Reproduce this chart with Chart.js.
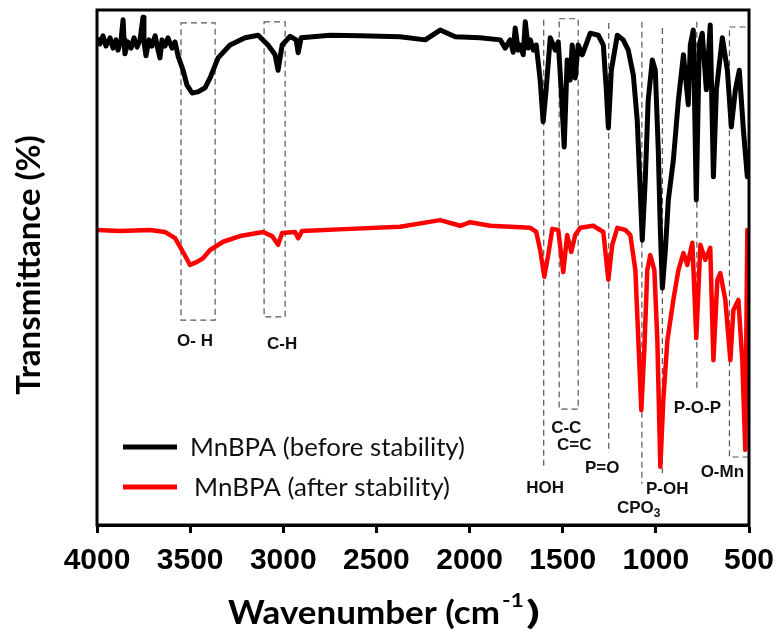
<!DOCTYPE html>
<html><head><meta charset="utf-8">
<script src="https://cdn.jsdelivr.net/npm/chart.js@4/dist/chart.umd.min.js"></script>
<style>html,body{margin:0;padding:0;background:#fff}#wrap{width:780px;height:637px;position:relative}</style>
</head><body><div id="wrap"><canvas id="c"></canvas></div>
<script>
// ---- data (wavenumber cm-1, transmittance a.u.) ----
const wnBefore = [4000,3984,3968,3952,3930,3914,3898,3887,3871,3860,3855,3850,3834,3817,3801,3785,3769,3753,3748,3737,3721,3705,3688,3672,3662,3651,3635,3619,3597,3581,3565,3538,3517,3490,3458,3420,3393,3350,3286,3205,3135,3082,3044,3028,3006,2963,2931,2920,2904,2749,2587,2373,2238,2158,2077,1943,1835,1809,1782,1766,1755,1739,1728,1712,1701,1685,1674,1658,1642,1621,1605,1589,1567,1540,1524,1508,1492,1476,1460,1449,1433,1417,1395,1352,1309,1282,1266,1255,1239,1207,1175,1148,1121,1100,1084,1073,1057,1041,1019,1003,987,976,965,949,933,906,879,852,826,815,799,783,767,751,729,708,691,675,643,616,595,573,552,530,509,504];
const tBefore = [94.6,93.4,95.0,93.0,94.6,92.6,94.2,92.2,94.2,98.1,94.2,91.5,93.8,92.6,94.6,92.8,94.2,98.6,93.8,91.1,94.2,93.0,95.0,92.2,90.7,94.2,93.0,94.6,92.6,93.8,91.1,88.3,85.4,83.9,84.1,84.9,86.8,90.7,93.2,94.6,95.1,93.2,91.3,88.3,93.2,94.9,94.2,91.7,94.6,95.1,95.0,94.8,94.2,96.1,94.8,94.6,94.2,92.6,94.2,91.8,96.5,92.2,93.2,91.3,97.7,92.6,94.2,92.2,93.2,86.4,78.3,84.5,94.6,92.2,93.8,84.5,73.4,90.3,86.4,93.2,86.8,93.2,91.3,95.5,95.1,93.2,84.5,77.1,88.3,95.1,94.2,92.2,87.4,78.6,65.0,55.3,66.9,82.5,90.3,88.3,72.8,57.3,46.0,53.4,63.1,70.9,82.5,91.3,81.6,93.2,96.1,63.1,93.2,95.5,84.5,97.1,67.6,84.5,94.6,88.3,77.3,84.5,88.3,76.7,67.6,72.8];
const wnAfter = [4000,3876,3715,3635,3581,3538,3501,3463,3431,3393,3323,3232,3108,3060,3028,3006,2937,2920,2899,2641,2373,2158,2050,1997,1889,1674,1642,1621,1599,1578,1556,1524,1497,1476,1454,1433,1406,1336,1282,1255,1234,1207,1164,1137,1110,1094,1078,1062,1046,1030,1008,992,976,960,938,906,879,852,831,804,783,761,735,708,691,670,654,627,600,584,557,536,520,509,504];
const tAfter = [57.3,57.1,57.3,56.9,55.7,53.0,50.5,51.1,51.8,53.4,55.0,56.1,56.9,56.1,54.4,56.7,56.9,55.7,57.1,57.5,57.9,59.2,58.1,58.8,58.1,57.7,56.9,53.4,48.2,52.4,57.5,57.3,49.1,56.3,53.0,56.3,57.7,58.1,56.9,47.6,54.4,57.7,57.3,56.3,49.5,35.9,22.3,34.0,49.5,52.4,49.5,35.9,11.3,24.3,35.9,43.7,49.5,52.8,50.5,54.8,36.3,54.4,51.5,53.8,32.0,47.6,48.9,43.7,32.0,41.7,43.7,32.0,14.6,57.3,57.3];
const seriesLabels = ["MnBPA (before stability)", "MnBPA (after stability)"];
const xTicks = [4000,3500,3000,2500,2000,1500,1000,500];

// band annotations (data units)
const bandBoxes = [ // [wnLeft, wnRight, tTop, tBottom]
  [3549,3366,97.5,39.8],
  [3103,2990,97.7,40.4],
  [1519,1417,98.3,22.5],
  [605,500,96.7,13.2]
];
const bandLines = [ // [wn, tTop, tBottom]
  [1602,98.1,10.7],
  [1253,97.5,14.0],
  [1075,97.7,8.0],
  [965,96.5,10.1],
  [780,97.7,26.2]
];
const bandLabels = ["O- H","C-H","HOH","C-C","C=C","P=O","CPO","P-OH","P-O-P","O-Mn"];
const bandLabelWn = [3474,3006,1594,1481,1438,1288,1092,939,777,643];
const bandLabelT  = [35.7,35.0,7.2,18.8,15.5,11.1,3.3,7.0,22.7,10.3];
const bandLabelSub = ["","","","","","","3","","",""];

function stretchText(ctx, text, x, y, target) {
  const w = ctx.measureText(text).width;
  const k = target / w;
  ctx.save(); ctx.translate(x, y); ctx.scale(k, 1); ctx.fillText(text, 0, 0); ctx.restore();
  return w * k;
}

const ann = {
  id: 'ann',
  beforeDatasetsDraw(chart) {
    const {ctx, scales:{x, y}} = chart;
    ctx.save();
    ctx.strokeStyle = '#555';
    ctx.lineWidth = 1.2;
    ctx.setLineDash([6,4]);
    bandBoxes.forEach(b => {
      const x1 = x.getPixelForValue(b[0]), x2 = x.getPixelForValue(b[1]);
      const y1 = y.getPixelForValue(b[2]), y2 = y.getPixelForValue(b[3]);
      ctx.strokeRect(x1, y1, x2 - x1, y2 - y1);
    });
    bandLines.forEach(l => {
      const px = x.getPixelForValue(l[0]);
      ctx.beginPath();
      ctx.moveTo(px, y.getPixelForValue(l[1]));
      ctx.lineTo(px, y.getPixelForValue(l[2]));
      ctx.stroke();
    });
    ctx.restore();
  },
  afterDatasetsDraw(chart) {
    const {ctx, chartArea:a, scales:{x, y}} = chart;
    ctx.save();
    // frame
    ctx.strokeStyle = '#000';
    ctx.lineWidth = 3;
    ctx.strokeRect(a.left, a.top, a.right - a.left, a.bottom - a.top);
    // band labels
    ctx.fillStyle = '#111';
    ctx.textBaseline = 'middle';
    const f = 'bold 17px "Liberation Sans", Arial, sans-serif';
    const fs = 'bold 12px "Liberation Sans", Arial, sans-serif';
    bandLabels.forEach((t, i) => {
      ctx.font = f;
      const w = ctx.measureText(t).width;
      ctx.font = fs;
      const ws = bandLabelSub[i] ? ctx.measureText(bandLabelSub[i]).width : 0;
      const cx = x.getPixelForValue(bandLabelWn[i]);
      const cy = y.getPixelForValue(bandLabelT[i]);
      const left = cx - (w + ws) / 2;
      ctx.font = f; ctx.textAlign = 'left';
      ctx.fillText(t, left, cy);
      if (ws) { ctx.font = fs; ctx.fillText(bandLabelSub[i], left + w, cy + 6); }
    });
    // legend
    const ds = chart.data.datasets;
    const legY = [a.top + 437, a.top + 477];
    const legW = [275, 256];
    ctx.font = '25px Lato, "Open Sans", sans-serif';
    ctx.fillStyle = '#111';
    ctx.textAlign = 'left';
    ds.forEach((d, i) => {
      ctx.strokeStyle = d.borderColor;
      ctx.lineWidth = 5;
      ctx.setLineDash([]);
      ctx.beginPath();
      ctx.moveTo(a.left + 26, legY[i]);
      ctx.lineTo(a.left + 80, legY[i]);
      ctx.stroke();
      stretchText(ctx, d.label, a.left + 93 + i * 4, legY[i] + 1, legW[i]);
    });
    ctx.restore();
  },
  afterDraw(chart) {
    const {ctx} = chart;
    ctx.save();
    ctx.fillStyle = '#000';
    // x title with superscript
    const main = 'Wavenumber (cm', sup = '-1', end = ')';
    const fm = 'bold 32px Lato, "Open Sans", sans-serif', fsu = 'bold 19px Lato, "Open Sans", sans-serif';
    ctx.textBaseline = 'alphabetic'; ctx.textAlign = 'left';
    ctx.font = fm;
    const w1 = stretchText(ctx, main, 228, 624, 272);
    ctx.font = fsu;
    const w2 = stretchText(ctx, sup, 228 + w1 + 2, 607, 22);
    ctx.font = fm;
    stretchText(ctx, end, 228 + w1 + w2 + 4, 624, 14);
    // y title
    ctx.translate(29, 265);
    ctx.rotate(-Math.PI / 2);
    ctx.textAlign = 'center'; ctx.textBaseline = 'middle';
    ctx.font = 'bold 33px Lato, "Open Sans", sans-serif';
    ctx.fillText('Transmittance (%)', 0, 0);
    ctx.restore();
  }
};

new Chart(document.getElementById('c'), {
  type: 'line',
  data: {
    datasets: [
      { label: seriesLabels[0], data: wnBefore.map((w, i) => ({x: w, y: tBefore[i]})),
        borderColor: '#000000', borderWidth: 5, pointRadius: 0, tension: 0, borderJoinStyle: 'round' },
      { label: seriesLabels[1], data: wnAfter.map((w, i) => ({x: w, y: tAfter[i]})),
        borderColor: '#ff0000', borderWidth: 4.5, pointRadius: 0, tension: 0, borderJoinStyle: 'round' }
    ]
  },
  options: {
    responsive: true, maintainAspectRatio: false, animation: false, devicePixelRatio: 1,
    layout: { padding: { left: 97, top: 10, right: 31, bottom: 0 } },
    plugins: { legend: { display: false }, tooltip: { enabled: false } },
    scales: {
      x: {
        type: 'linear', reverse: true, min: 500, max: 4000,
        afterBuildTicks: s => { s.ticks = xTicks.map(v => ({value: v})); },
        afterFit: s => { s.height = 112; s.paddingLeft = 0; s.paddingRight = 0; },
        grid: { drawOnChartArea: false, drawTicks: true, tickLength: 8, tickWidth: 3, color: '#000' },
        border: { display: true, color: '#000', width: 3 },
        ticks: { color: '#000', padding: 10, maxRotation: 0, autoSkip: false,
                 callback: v => String(v),
                 font: { family: '"Liberation Sans", Arial, sans-serif', size: 30, weight: 'bold' } }
      },
      y: { display: false, min: 0, max: 100 }
    }
  },
  plugins: [ann]
});
</script>
</body></html>
